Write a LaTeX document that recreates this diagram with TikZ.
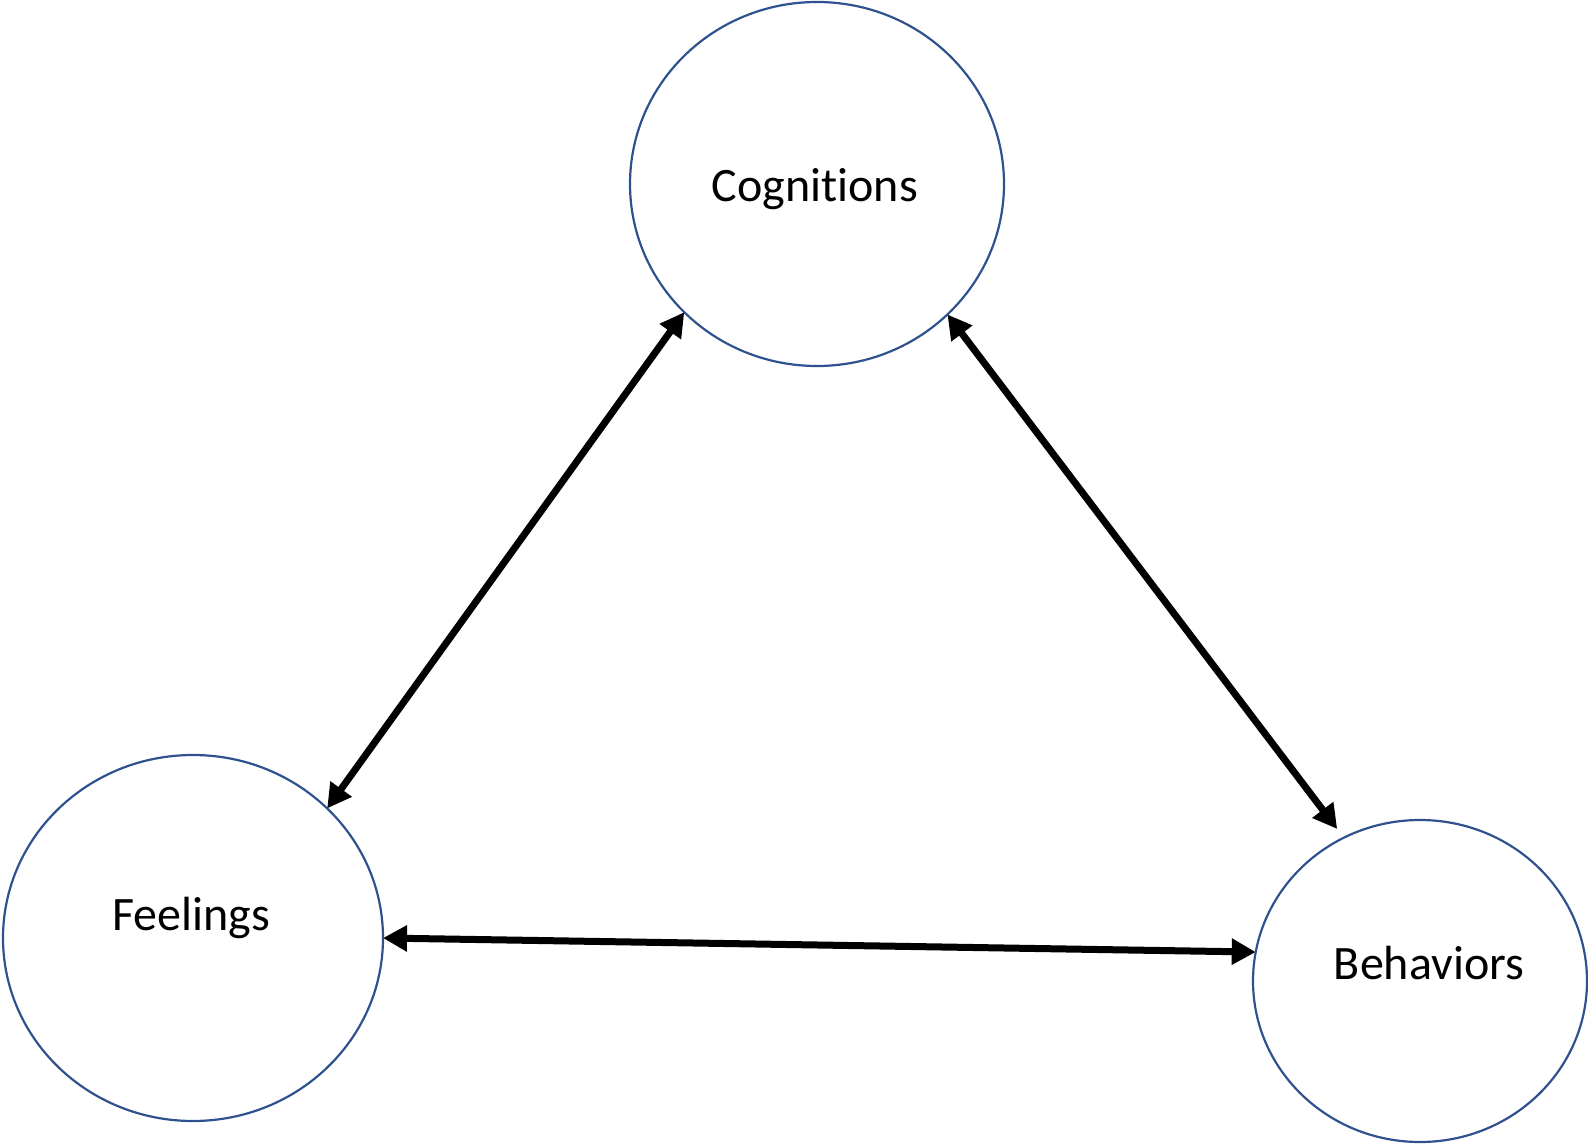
\documentclass[tikz,border=0pt]{standalone}
\usepackage{fontspec}
\setmainfont{Carlito}[Ligatures=NoCommon]
\usetikzlibrary{shapes.geometric,arrows.meta}
\definecolor{ringblue}{RGB}{47,82,143}
\tikzset{
  ring/.style={draw=ringblue, line width=1.1pt, ellipse, inner sep=0pt, outer sep=0pt},
  lbl/.style={anchor=base, inner sep=0pt, font=\fontsize{24}{29}\selectfont},
  link/.style={line width=3.5pt, {Triangle[length=12pt,width=12.5pt]}-{Triangle[length=12pt,width=12.5pt]}}
}
\begin{document}
\begin{tikzpicture}[x=0.5pt,y=-0.5pt]
\useasboundingbox (0,0) rectangle (1588,1144);
\node[ring, minimum width=187pt, minimum height=182pt] (cog) at (817,184) {};
\node[ring, minimum width=190pt, minimum height=183pt] (feel) at (193,938) {};
\node[ring, minimum width=167pt, minimum height=161pt] (beh) at (1420,981) {};
\node[lbl] (cogt) at (815,202) {Cognitions};
\node[lbl] (feelt) at (191,930) {Feelings};
\node[lbl] (beht) at (1429,979) {Behaviors};
\draw[link] (cog.224.3) -- (feel.44.4);
\draw[link, shorten >=5.5pt] (cog.315) -- (beh.118.9);
\draw[link] (feel.0) -- (beh.170.5);
\end{tikzpicture}
\end{document}
